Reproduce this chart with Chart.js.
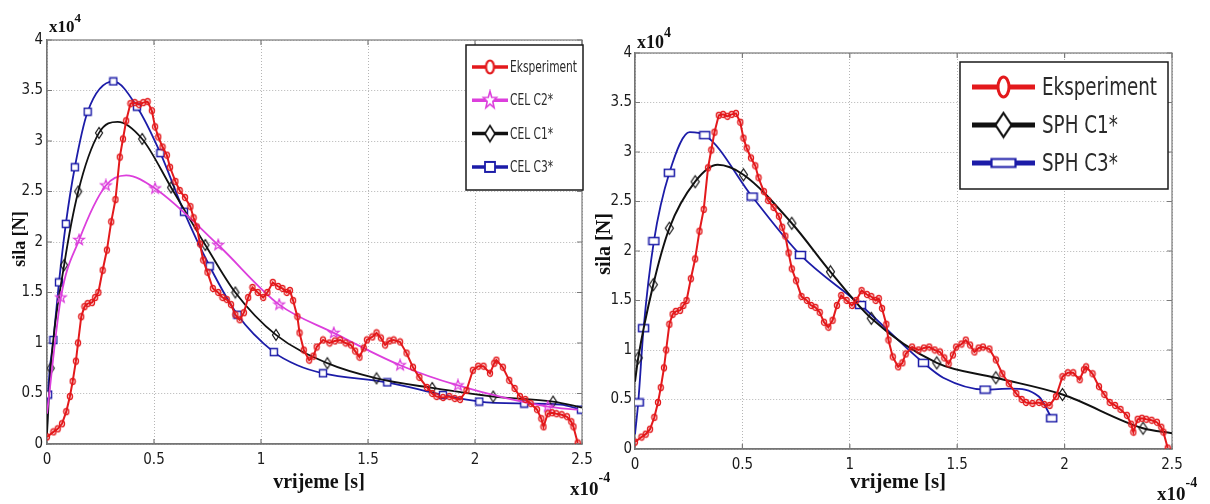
<!DOCTYPE html>
<html lang="hr">
<head>
  <meta charset="UTF-8">
  <title>Sila - vrijeme: CEL i SPH</title>
  <style>
    body { margin: 0; background: #fff; width: 1210px; height: 504px; overflow: hidden; position: relative; }
    .panel { position: absolute; top: 0; height: 504px; width: 620px; }
    #leftPanel { left: 0; }
    #rightPanel { left: 590px; }
  </style>
</head>
<body>
  <div class="panel" id="leftPanel"><canvas id="leftChart"></canvas></div>
  <div class="panel" id="rightPanel"><canvas id="rightChart"></canvas></div>

  <script src="https://cdn.jsdelivr.net/npm/chart.js@4.4.2/dist/chart.umd.min.js"></script>
  <script>
    // axis ticks (x in 1e-4 s, y in 1e4 N)
    const xTicks = [0, 0.5, 1, 1.5, 2, 2.5];
    const yTicks = [0, 0.5, 1, 1.5, 2, 2.5, 3, 3.5, 4];

    // measured force, same curve in both plots
    const eksperiment = [
      [0.00, 0.07], [0.03, 0.12], [0.05, 0.15], [0.07, 0.20], [0.09, 0.32], [0.107, 0.47], [0.12, 0.62],
      [0.135, 0.82], [0.145, 1.00], [0.16, 1.26], [0.175, 1.36], [0.19, 1.39], [0.21, 1.40], [0.225, 1.45],
      [0.24, 1.50], [0.26, 1.72], [0.28, 1.92], [0.30, 2.20], [0.32, 2.42], [0.34, 2.84], [0.355, 3.02],
      [0.37, 3.20], [0.39, 3.37], [0.41, 3.38], [0.43, 3.36], [0.45, 3.38], [0.47, 3.39], [0.49, 3.30],
      [0.505, 3.14], [0.52, 3.04], [0.54, 2.94], [0.56, 2.86], [0.575, 2.74], [0.60, 2.60], [0.62, 2.51],
      [0.645, 2.44], [0.67, 2.35], [0.685, 2.24], [0.70, 2.15], [0.715, 1.98], [0.73, 1.82], [0.75, 1.70],
      [0.775, 1.54], [0.80, 1.50], [0.82, 1.45], [0.84, 1.43], [0.86, 1.38], [0.88, 1.28], [0.90, 1.23],
      [0.92, 1.30], [0.94, 1.45], [0.96, 1.55], [0.985, 1.50], [1.01, 1.45], [1.03, 1.50], [1.055, 1.60],
      [1.08, 1.56], [1.10, 1.54], [1.12, 1.50], [1.135, 1.52], [1.15, 1.42], [1.17, 1.26], [1.18, 1.10],
      [1.20, 0.93], [1.225, 0.83], [1.245, 0.87], [1.26, 0.96], [1.29, 1.03], [1.32, 1.00], [1.345, 1.02],
      [1.37, 1.03], [1.395, 1.00], [1.42, 0.98], [1.44, 0.92], [1.46, 0.86], [1.48, 0.95], [1.495, 1.03],
      [1.52, 1.06], [1.54, 1.10], [1.56, 1.05], [1.58, 0.98], [1.60, 1.02], [1.62, 1.03], [1.65, 1.01],
      [1.68, 0.90], [1.71, 0.76], [1.74, 0.66], [1.775, 0.56], [1.80, 0.50], [1.82, 0.47], [1.85, 0.46],
      [1.88, 0.47], [1.905, 0.45], [1.93, 0.44], [1.96, 0.53], [1.99, 0.73], [2.015, 0.77], [2.04, 0.77],
      [2.07, 0.70], [2.09, 0.80], [2.10, 0.83], [2.13, 0.76], [2.16, 0.63], [2.185, 0.55], [2.21, 0.47],
      [2.235, 0.44], [2.26, 0.40], [2.29, 0.34], [2.31, 0.25], [2.32, 0.17], [2.34, 0.30], [2.36, 0.31],
      [2.38, 0.30], [2.405, 0.29], [2.43, 0.27], [2.45, 0.22], [2.46, 0.17], [2.48, 0.01]
    ];

    // CEL simulations (left plot); *Marks = indices that carry a marker
    const celC2 = [[0, 0.30], [0.065, 1.45], [0.15, 2.02], [0.275, 2.56], [0.37, 2.66], [0.505, 2.53],
      [0.80, 1.97], [1.085, 1.38], [1.34, 1.10], [1.65, 0.78], [1.92, 0.58], [2.34, 0.37], [2.48, 0.34]];
    const celC2Marks = [1, 2, 3, 5, 6, 7, 8, 9, 10, 11];

    const celC1 = [[0, 0.10], [0.017, 0.75], [0.08, 1.77], [0.146, 2.50], [0.243, 3.08], [0.33, 3.19],
      [0.445, 3.02], [0.58, 2.54], [0.74, 1.97], [0.88, 1.50], [1.07, 1.08], [1.31, 0.80], [1.54, 0.65],
      [1.80, 0.555], [2.085, 0.47], [2.365, 0.42], [2.50, 0.36]];
    const celC1Marks = [1, 2, 3, 4, 6, 7, 8, 9, 10, 11, 12, 13, 14, 15];

    const celC3 = [[0, 0.15], [0.005, 0.49], [0.03, 1.03], [0.056, 1.60], [0.088, 2.18], [0.13, 2.74],
      [0.19, 3.29], [0.31, 3.59], [0.42, 3.34], [0.53, 2.88], [0.64, 2.30], [0.76, 1.76], [0.89, 1.28],
      [1.06, 0.91], [1.17, 0.78], [1.29, 0.70], [1.59, 0.61], [1.85, 0.485], [2.02, 0.42], [2.23, 0.40],
      [2.40, 0.39], [2.495, 0.34]];
    const celC3Marks = [1, 2, 3, 4, 5, 6, 7, 8, 9, 10, 11, 12, 13, 15, 16, 17, 18, 19, 21];

    // SPH simulations (right plot)
    const sphC1 = [[0, 0.68], [0.015, 0.92], [0.085, 1.66], [0.16, 2.23], [0.28, 2.70], [0.385, 2.87],
      [0.505, 2.77], [0.73, 2.28], [0.91, 1.79], [1.10, 1.32], [1.405, 0.87], [1.68, 0.72], [1.99, 0.55],
      [2.365, 0.21], [2.50, 0.16]];
    const sphC1Marks = [1, 2, 3, 4, 6, 7, 8, 9, 10, 11, 12, 13];

    const sphC3 = [[0, 0.15], [0.015, 0.47], [0.04, 1.22], [0.088, 2.10], [0.16, 2.79], [0.255, 3.20],
      [0.325, 3.17], [0.545, 2.55], [0.77, 1.96], [1.05, 1.455], [1.343, 0.87], [1.435, 0.72],
      [1.63, 0.60], [1.75, 0.61], [1.88, 0.53], [1.94, 0.31]];
    const sphC3Marks = [1, 2, 3, 4, 6, 7, 8, 9, 10, 12, 15];

    const RED = '#e3191c', MAGENTA = '#dc3fdc', BLACK = '#111111', BLUE = '#1c1ca8';
    const NARROW = '"Liberation Sans Narrow", "Arial Narrow", "DejaVu Sans Condensed", sans-serif';
    const SERIF = '"Liberation Serif", "Times New Roman", serif';

    // small marker bitmaps (Matlab style symbols)
    function marker(kind, color, w, h, lw, fill) {
      const c = document.createElement('canvas');
      c.width = Math.ceil(w + lw * 2);
      c.height = Math.ceil(h + lw * 2);
      const g = c.getContext('2d');
      const cx = c.width / 2, cy = c.height / 2, rx = w / 2, ry = h / 2;
      g.beginPath();
      if (kind === 'circle') g.ellipse(cx, cy, rx, ry, 0, 0, Math.PI * 2);
      else if (kind === 'square') g.rect(cx - rx, cy - ry, w, h);
      else if (kind === 'diamond') {
        g.moveTo(cx, cy - ry); g.lineTo(cx + rx, cy); g.lineTo(cx, cy + ry); g.lineTo(cx - rx, cy); g.closePath();
      } else if (kind === 'star') {
        for (let i = 0; i < 10; i++) {
          const k = i % 2 ? 0.42 : 1;
          const a = -Math.PI / 2 + i * Math.PI / 5;
          g.lineTo(cx + rx * k * Math.cos(a), cy + ry * k * Math.sin(a));
        }
        g.closePath();
      }
      if (fill) { g.fillStyle = fill; g.fill(); }
      g.strokeStyle = color;
      g.lineWidth = lw;
      g.stroke();
      return c;
    }

    const toXY = arr => arr.map(([x, y]) => ({ x, y }));

    function series(label, points, marks, color, width, symbol) {
      return {
        label,
        data: toXY(points),
        showLine: true,
        borderColor: color,
        borderWidth: width,
        cubicInterpolationMode: marks ? 'monotone' : 'default',
        tension: 0,
        pointStyle: symbol,
        pointRadius: marks ? (c => marks.includes(c.dataIndex) ? 4 : 0) : 3,
        pointHoverRadius: 0
      };
    }

    // Matlab-like frame with inner ticks
    const framePlugin = {
      id: 'frame',
      beforeDatasetsDraw(chart) {
        const { ctx, chartArea: a, scales } = chart;
        ctx.save();
        ctx.strokeStyle = '#7a7a7a';
        ctx.lineWidth = 1.2;
        ctx.strokeRect(a.left, a.top, a.right - a.left, a.bottom - a.top);
        ctx.beginPath();
        xTicks.forEach(v => {
          const px = scales.x.getPixelForValue(v);
          ctx.moveTo(px, a.bottom); ctx.lineTo(px, a.bottom - 5);
          ctx.moveTo(px, a.top); ctx.lineTo(px, a.top + 5);
        });
        yTicks.forEach(v => {
          const py = scales.y.getPixelForValue(v);
          ctx.moveTo(a.left, py); ctx.lineTo(a.left + 5, py);
          ctx.moveTo(a.right, py); ctx.lineTo(a.right - 5, py);
        });
        ctx.stroke();
        ctx.restore();
      }
    };

    function legendPlugin(cfg) {
      return {
        id: 'boxLegend',
        afterDraw(chart) {
          const ctx = chart.ctx;
          ctx.save();
          ctx.fillStyle = '#fff';
          ctx.fillRect(cfg.x, cfg.y, cfg.w, cfg.h);
          ctx.strokeStyle = '#1a1a1a';
          ctx.lineWidth = 1.5;
          ctx.strokeRect(cfg.x, cfg.y, cfg.w, cfg.h);
          ctx.font = cfg.font;
          // squeeze the text horizontally like the narrow Matlab font
          const squeeze = Math.min(1, cfg.textW / ctx.measureText('Eksperiment').width);
          chart.data.datasets.forEach((ds, i) => {
            const y = cfg.row0 + i * cfg.rowGap;
            ctx.strokeStyle = ds.borderColor;
            ctx.lineWidth = cfg.lineWidth;
            ctx.beginPath();
            ctx.moveTo(cfg.line0, y);
            ctx.lineTo(cfg.line1, y);
            ctx.stroke();
            const img = cfg.symbols[i];
            ctx.drawImage(img, (cfg.line0 + cfg.line1) / 2 - img.width / 2, y - img.height / 2);
            ctx.save();
            ctx.fillStyle = '#2a2a2a';
            ctx.textAlign = 'left';
            ctx.textBaseline = 'middle';
            ctx.translate(cfg.textX, y + 1);
            ctx.scale(squeeze, 1);
            ctx.fillText(ds.label, 0, 0);
            ctx.restore();
          });
          ctx.restore();
        }
      };
    }

    function textPlugin(cfg) {
      const power = (ctx, exp, p) => {
        ctx.font = 'bold ' + p.size + 'px ' + SERIF;
        ctx.textAlign = 'left';
        ctx.textBaseline = 'alphabetic';
        ctx.fillText('x10', p.x, p.y);
        const w = ctx.measureText('x10').width;
        ctx.font = 'bold ' + p.expSize + 'px ' + SERIF;
        ctx.fillText(exp, p.x + w, p.y - p.raise);
      };
      return {
        id: 'axisTexts',
        afterDraw(chart) {
          const ctx = chart.ctx;
          ctx.save();
          ctx.fillStyle = '#111';
          power(ctx, '4', cfg.yPow);
          power(ctx, '-4', cfg.xPow);
          ctx.textAlign = 'center';
          ctx.textBaseline = 'middle';
          ctx.font = 'bold ' + cfg.xTitle.size + 'px ' + SERIF;
          ctx.fillText('vrijeme [s]', cfg.xTitle.x, cfg.xTitle.y);
          ctx.translate(cfg.yTitle.x, cfg.yTitle.y);
          ctx.rotate(-Math.PI / 2);
          ctx.font = 'bold ' + cfg.yTitle.size + 'px ' + SERIF;
          ctx.fillText('sila [N]', 0, 0);
          ctx.restore();
        }
      };
    }

    function buildChart(id, datasets, lay, legendCfg, textCfg) {
      const tickFont = { family: NARROW, size: 15 };
      return new Chart(document.getElementById(id), {
        type: 'scatter',
        data: { datasets },
        options: {
          responsive: true,
          maintainAspectRatio: false,
          animation: false,
          devicePixelRatio: 1,
          layout: { padding: { left: 0, top: lay.top, right: lay.right, bottom: 0 } },
          scales: {
            x: {
              type: 'linear', min: 0, max: 2.5,
              afterBuildTicks: s => { s.ticks = xTicks.map(v => ({ value: v })); },
              afterFit: s => { s.height = lay.xHeight; },
              grid: { color: '#b5b5b5', lineWidth: 1, drawTicks: false },
              border: { color: '#6f6f6f', width: 1.5, dash: [1, 2] },
              ticks: { font: tickFont, color: '#1a1a1a', padding: 7, autoSkip: false, maxRotation: 0, callback: v => String(v) }
            },
            y: {
              type: 'linear', min: 0, max: 4,
              afterBuildTicks: s => { s.ticks = yTicks.map(v => ({ value: v })); },
              afterFit: s => { s.width = lay.yWidth; },
              grid: { color: '#b5b5b5', lineWidth: 1, drawTicks: false },
              border: { color: '#6f6f6f', width: 1.2, dash: [1, 2] },
              ticks: { font: tickFont, color: '#1a1a1a', padding: lay.yPad, callback: v => String(v) }
            }
          },
          plugins: { legend: { display: false }, tooltip: { enabled: false } }
        },
        plugins: [framePlugin, legendPlugin(legendCfg), textPlugin(textCfg)]
      });
    }

    // plot symbols
    const redDot = marker('circle', RED, 5, 6, 1.4, null);
    const magStar = marker('star', MAGENTA, 11, 11, 1.3, null);
    const blkDiamond = marker('diamond', BLACK, 7, 11, 1.2, null);
    const bluSquare = marker('square', BLUE, 7, 7, 1.4, '#fff');
    const blkDiamondR = marker('diamond', BLACK, 8, 12, 1.2, null);
    const bluRect = marker('square', BLUE, 10, 7, 1.5, '#fff');

    buildChart('leftChart', [
      series('Eksperiment', eksperiment, null, RED, 2, redDot),
      series('CEL C2*', celC2, celC2Marks, MAGENTA, 1.8, magStar),
      series('CEL C1*', celC1, celC1Marks, BLACK, 1.8, blkDiamond),
      series('CEL C3*', celC3, celC3Marks, BLUE, 1.8, bluSquare)
    ], { top: 40, right: 38, xHeight: 60, yWidth: 47, yPad: 4 }, {
      x: 466, y: 45, w: 117, h: 145, row0: 67, rowGap: 33.3, line0: 472, line1: 508, textX: 510,
      lineWidth: 3.5, font: '16px ' + NARROW, textW: 67,
      symbols: [
        marker('circle', RED, 8, 13, 2.2, '#fff'),
        marker('star', MAGENTA, 14, 18, 1.6, '#fff'),
        marker('diamond', BLACK, 10, 16, 1.6, '#fff'),
        marker('square', BLUE, 10, 10, 1.8, '#fff')
      ]
    }, {
      yPow: { x: 49, y: 32, size: 17, expSize: 13, raise: 10 },
      xPow: { x: 570, y: 495, size: 19, expSize: 14, raise: 13 },
      xTitle: { x: 319, y: 483, size: 20 },
      yTitle: { x: 20, y: 239, size: 18 }
    });

    buildChart('rightChart', [
      series('Eksperiment', eksperiment, null, RED, 2, redDot),
      series('SPH C1*', sphC1, sphC1Marks, BLACK, 2, blkDiamondR),
      series('SPH C3*', sphC3, sphC3Marks, BLUE, 1.8, bluRect)
    ], { top: 53, right: 38, xHeight: 55, yWidth: 45, yPad: 3 }, {
      x: 370, y: 62, w: 208, h: 127, row0: 87, rowGap: 38, line0: 382, line1: 445, textX: 452,
      lineWidth: 5, font: '25px ' + NARROW, textW: 115,
      symbols: [
        marker('circle', RED, 11, 20, 3, '#fff'),
        marker('diamond', BLACK, 16, 24, 2.2, '#fff'),
        marker('square', BLUE, 24, 8, 2.2, '#fff')
      ]
    }, {
      yPow: { x: 47, y: 48, size: 18, expSize: 14, raise: 11 },
      xPow: { x: 567, y: 500, size: 19, expSize: 14, raise: 13 },
      xTitle: { x: 308, y: 483, size: 21 },
      yTitle: { x: 15, y: 244, size: 20 }
    });
  </script>
</body>
</html>
